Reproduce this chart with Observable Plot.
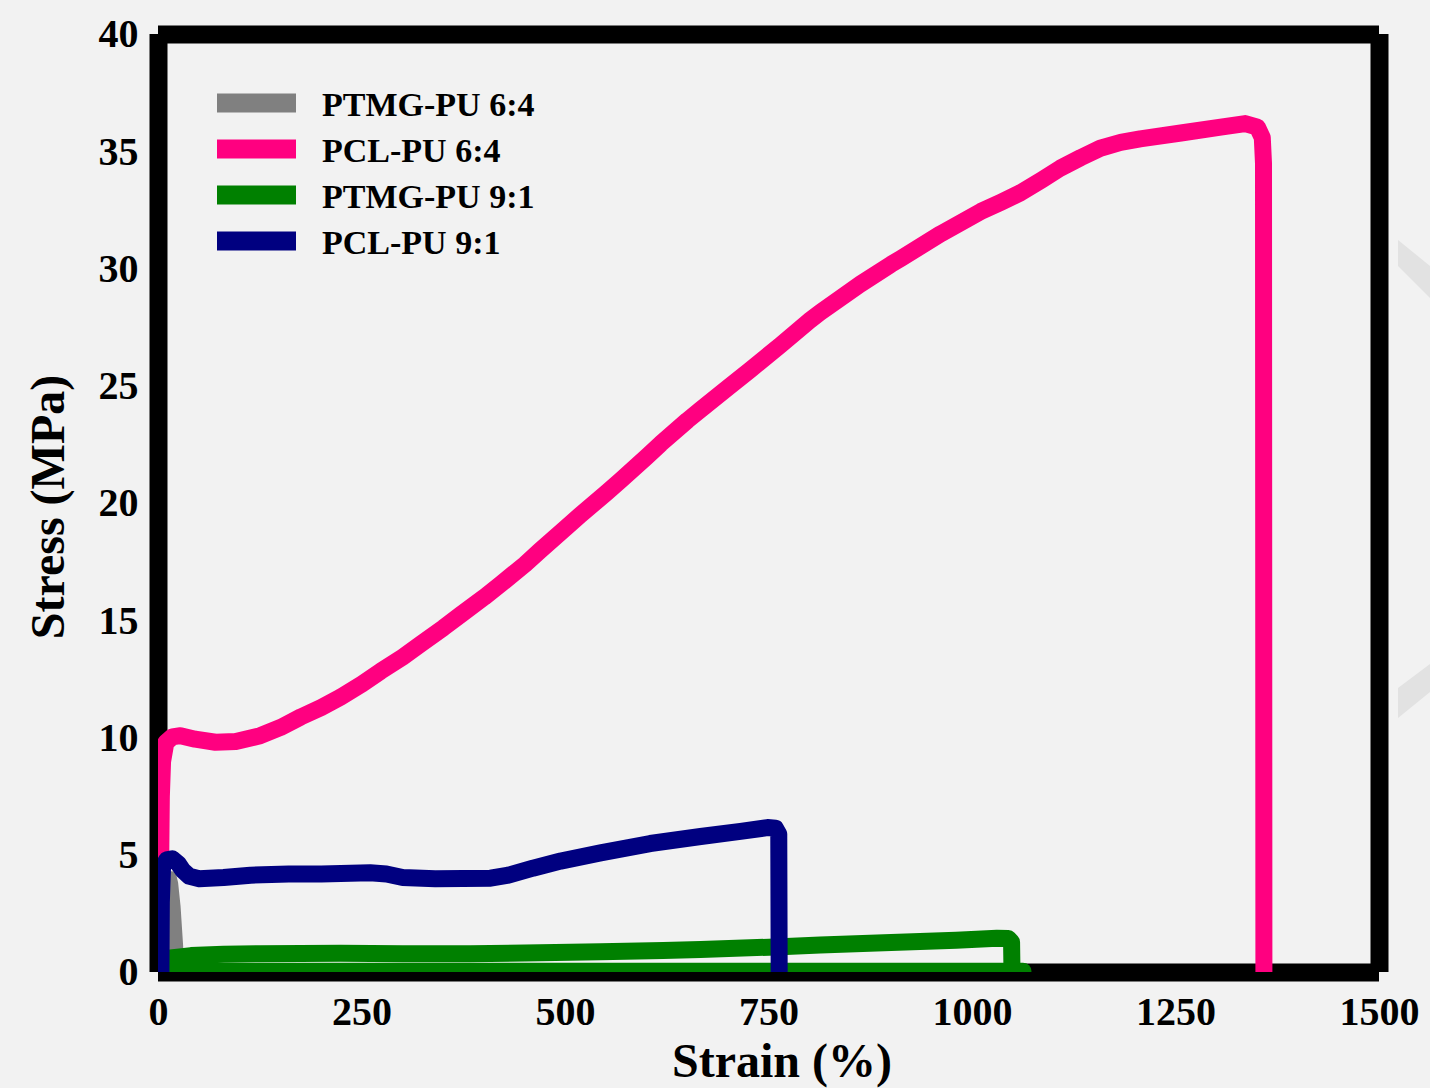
<!DOCTYPE html>
<html>
<head>
<meta charset="utf-8">
<script src="https://cdn.jsdelivr.net/npm/d3@7"></script>
<script src="https://cdn.jsdelivr.net/npm/@observablehq/plot@0.6"></script>
<style>
  html, body { margin: 0; padding: 0; background: #f2f2f2; }
  #chart { position: relative; width: 1430px; height: 1088px; }
</style>
</head>
<body>
<div id="chart"></div>
<script>
// Tensile stress–strain curves, [strain (%), stress (MPa)]
const seriesNames = ["PTMG-PU 6:4", "PCL-PU 6:4", "PTMG-PU 9:1", "PCL-PU 9:1"];
const seriesColors = ["#808080", "#ff0080", "#008000", "#000080"];

const ptmg64 = [[14, 0], [14.5, 3.5], [16, 4.1], [18, 3.8], [21, 2.8], [24, 1.2], [26, 0]];

const pcl64 = [[2, 0], [2.5, 4], [3.5, 7.5], [5, 9.0], [9, 9.8], [17, 10.05], [27, 10.1], [45, 9.95],
  [70, 9.82], [95, 9.85], [125, 10.1], [150, 10.45], [175, 10.9], [200, 11.3], [224, 11.75],
  [250, 12.3], [273, 12.85], [300, 13.45], [322, 14.0], [350, 14.7], [371, 15.25], [400, 16.0],
  [420, 16.55], [450, 17.4], [469, 18.0], [500, 18.95], [518, 19.5], [550, 20.45], [568, 21.0],
  [600, 22.0], [617, 22.55], [650, 23.55], [666, 24.0], [700, 24.95], [727, 25.7], [764, 26.75],
  [800, 27.8], [813, 28.15], [862, 29.35], [900, 30.2], [912, 30.45], [961, 31.5], [1010, 32.45],
  [1035, 32.85], [1059, 33.25], [1085, 33.8], [1108, 34.3], [1133, 34.75], [1157, 35.15],
  [1182, 35.4], [1206, 35.55], [1256, 35.8], [1305, 36.05], [1335, 36.2], [1350, 36.05],
  [1356, 35.6], [1357.5, 34.5], [1358, 0]];

const ptmg91 = [[8, 0.05], [9, 0.5], [15, 0.62], [40, 0.72], [80, 0.78], [125, 0.8], [224, 0.82],
  [300, 0.8], [383, 0.8], [450, 0.83], [543, 0.88], [620, 0.94], [666, 0.98], [750, 1.08],
  [813, 1.17], [900, 1.28], [980, 1.38], [1030, 1.46], [1044, 1.45], [1048, 1.3], [1048.5, 0.05]];
const ptmg91Tail = [[0, 0.05], [1062, 0.05]];

const pcl91 = [[3, 0], [3.5, 3], [5, 4.5], [10, 4.8], [17, 4.85], [24, 4.65], [30, 4.35], [38, 4.1],
  [50, 4.0], [80, 4.05], [113, 4.15], [160, 4.2], [200, 4.2], [260, 4.25], [280, 4.2], [300, 4.05],
  [340, 4.0], [408, 4.02], [430, 4.15], [460, 4.45], [494, 4.75], [543, 5.1], [604, 5.5],
  [666, 5.8], [715, 6.02], [748, 6.18], [758, 6.15], [762, 5.9], [762.5, 0]];

const xTicks = [0, 250, 500, 750, 1000, 1250, 1500];
const yTicks = [0, 5, 10, 15, 20, 25, 30, 35, 40];

const toRows = (pts, series, seg) => pts.map(([strain, stress]) => ({series, seg, strain, stress}));

const rows = [
  ...toRows(ptmg64, seriesNames[0], "a"),
  ...toRows(pcl64, seriesNames[1], "b"),
  ...toRows(ptmg91, seriesNames[2], "c"),
  ...toRows(ptmg91Tail, seriesNames[2], "c2"),
  ...toRows(pcl91, seriesNames[3], "d")
];

const serif = "'Liberation Serif', 'Times New Roman', Times, serif";
const curve = (name, width) => Plot.line(rows.filter(d => d.series === name), {
  x: "strain", y: "stress", z: "seg", stroke: "series",
  strokeWidth: width, strokeLinejoin: "round", strokeLinecap: "round", clip: true
});

const svg = Plot.plot({
  width: 1430,
  height: 1088,
  marginLeft: 158,
  marginRight: 51,
  marginTop: 34,
  marginBottom: 116,
  style: {background: "#f2f2f2", fontFamily: serif, color: "#000", overflow: "visible"},
  x: {domain: [0, 1500]},
  y: {domain: [0, 40]},
  color: {domain: seriesNames, range: seriesColors},
  marks: [
    Plot.axisX({ticks: xTicks, tickSize: 0, tickPadding: 24, tickFormat: d3.format("d"),
      fontSize: 40, fontWeight: "bold", fill: "#000", label: null}),
    Plot.axisY({ticks: yTicks, tickSize: 0, tickPadding: 20, tickFormat: d3.format("d"),
      fontSize: 40, fontWeight: "bold", fill: "#000", label: null}),
    // heavy box around the data area
    Plot.ruleX([0, 1500], {y1: 0, y2: 40, stroke: "#000", strokeWidth: 18}),
    Plot.ruleY([0, 40], {x1: 0, x2: 1500, stroke: "#000", strokeWidth: 18}),
    curve(seriesNames[0], 10),
    curve(seriesNames[1], 17),
    curve(seriesNames[2], 17),
    curve(seriesNames[3], 17)
  ]
});

const root = d3.select(svg);

// faint ribbons along the right edge
root.append("polygon").attr("points", "1398,240 1430,266 1430,298 1398,266")
  .attr("fill", "#e2e2e2");
root.append("polygon").attr("points", "1398,688 1430,664 1430,692 1398,718")
  .attr("fill", "#e2e2e2");

// axis titles
root.append("text").attr("x", 782).attr("y", 1077).attr("text-anchor", "middle")
  .attr("font-family", serif).attr("font-weight", "bold").attr("font-size", 48).attr("fill", "#000")
  .text("Strain (%)");
root.append("text").attr("transform", "translate(64,507) rotate(-90)").attr("text-anchor", "middle")
  .attr("font-family", serif).attr("font-weight", "bold").attr("font-size", 48).attr("fill", "#000")
  .text("Stress (MPa)");

// legend
const legend = root.append("g").attr("font-family", serif).attr("font-weight", "bold")
  .attr("font-size", 34).attr("text-anchor", "start");
seriesNames.forEach((name, i) => {
  const cy = 103 + i * 46;
  legend.append("rect").attr("x", 217).attr("y", cy - 9.5).attr("width", 79).attr("height", 19)
    .attr("fill", seriesColors[i]);
  legend.append("text").attr("x", 322).attr("y", cy + 13).attr("fill", "#000").text(name);
});

document.getElementById("chart").appendChild(svg);
</script>
</body>
</html>
